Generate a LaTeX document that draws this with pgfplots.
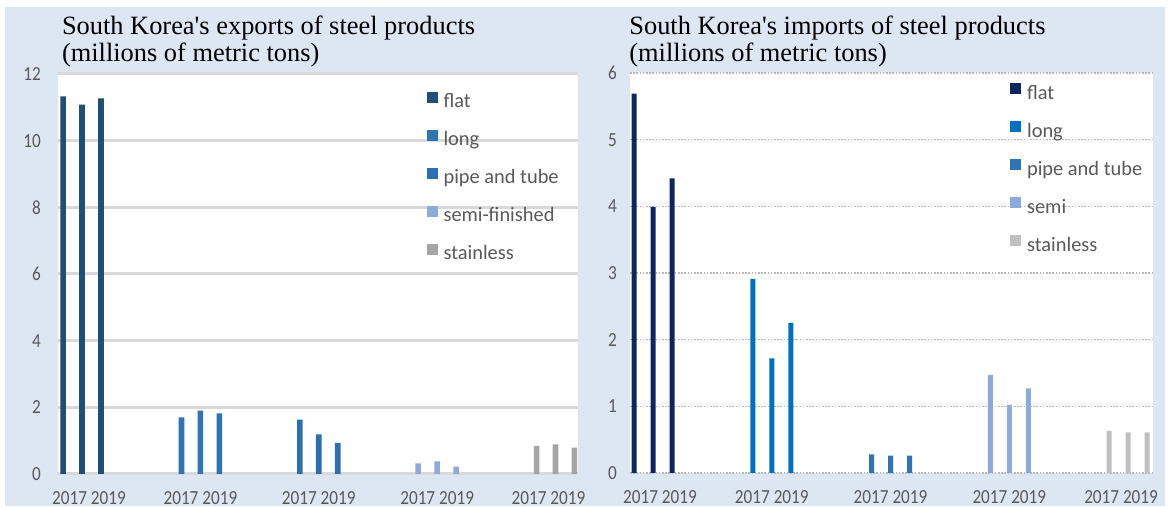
\documentclass[border=0pt]{standalone}
\usepackage{fontspec}
\setmainfont{Liberation Serif}
\newfontfamily\calfont{Carlito}
\usepackage{pgfplots}
\pgfplotsset{compat=1.18}
\definecolor{bg}{HTML}{DDE7F3}
\definecolor{tc}{HTML}{595959}
\definecolor{lflat}{HTML}{1F4E79}
\definecolor{llong}{HTML}{2E75B6}
\definecolor{lpipe}{HTML}{2B6EB2}
\definecolor{lsemi}{HTML}{8EA9DB}
\definecolor{lstain}{HTML}{A5A5A5}
\definecolor{rflat}{HTML}{0E2660}
\definecolor{rlong}{HTML}{0070C0}
\definecolor{rpipe}{HTML}{2E75B6}
\definecolor{rsemi}{HTML}{8EA9DB}
\definecolor{rstain}{HTML}{BFBFBF}
\newcommand\tl[1]{\scalebox{0.86}[1]{#1}}
\pgfplotsset{
  common/.style={
    scale only axis, anchor=south west,
    ybar, bar shift=0pt,
    axis line style={draw=none}, major tick length=0pt,
    axis background/.style={fill=white},
    ymajorgrids,
    xtick={0,1,2,3,4},
    xticklabels={\hspace*{7pt}\tl{2017 2019},\tl{2017 2019},\tl{2017 2019},\tl{2017 2019},\tl{2017 2019}\hspace*{7pt}},
    xticklabel style={font=\calfont\fontsize{10}{12}\selectfont, text=tc, yshift=-5pt},
    yticklabel style={font=\calfont\fontsize{10}{12}\selectfont, text=tc},
    yticklabel={\tl{\pgfmathprintnumber{\tick}}},
    /pgf/number format/assume math mode=true,
    legend cell align=left,
    legend style={draw=none, fill=none, anchor=north west, inner sep=0pt, row sep=9pt, column sep=3pt,
      font=\calfont\fontsize{10.2}{12}\selectfont, text=tc,
      nodes={inner sep=0pt, text height=7pt, text depth=2pt}},
    legend image code/.code={\fill[##1, draw=none] (0pt,0pt) rectangle (5.5pt,5.5pt);},
  }
}
\begin{document}
\begin{tikzpicture}
\useasboundingbox (0,0) rectangle (584pt,254pt);
\fill[white] (0,0) rectangle (584pt,254pt);
\fill[bg] (2.5pt,1pt) rectangle (582.5pt,250.5pt);
\node[anchor=base west, inner sep=0pt, font=\fontsize{13.2}{16}\selectfont] at (30.8pt,236.85pt) {South Korea\textquotesingle s exports of steel products};
\node[anchor=base west, inner sep=0pt, font=\fontsize{13.2}{16}\selectfont] at (30.8pt,223.15pt) {(millions of metric tons)};
\node[anchor=base west, inner sep=0pt, font=\fontsize{13.2}{16}\selectfont] at (314.5pt,236.85pt) {South Korea\textquotesingle s imports of steel products};
\node[anchor=base west, inner sep=0pt, font=\fontsize{13.2}{16}\selectfont] at (314.5pt,223.15pt) {(millions of metric tons)};

\begin{axis}[common,
  at={(29pt,17pt)}, width=260pt, height=200pt,
  xmin=-0.203, xmax=4.19, ymin=0, ymax=12, ytick={0,2,4,6,8,10,12},
  bar width=2.8pt,
  grid style={draw=black!15, line width=1.5pt},
  yticklabel style={xshift=-5pt},
  legend style={at={(0.708,0.9565)}},
]
\addplot[fill=lflat, draw=none] coordinates {(-0.16,11.33) (0,11.08) (0.16,11.27)};
\addplot[fill=llong, draw=none] coordinates {(0.84,1.70) (1,1.90) (1.16,1.82)};
\addplot[fill=lpipe, draw=none] coordinates {(1.84,1.63) (2,1.19) (2.16,0.93)};
\addplot[fill=lsemi, draw=none] coordinates {(2.84,0.32) (3,0.38) (3.16,0.22)};
\addplot[fill=lstain, draw=none] coordinates {(3.84,0.84) (4,0.89) (4.16,0.79)};
\legend{flat,long,pipe and tube,semi-finished,stainless}
\end{axis}

\begin{axis}[common,
  at={(315pt,17.5pt)}, width=261.5pt, height=200pt,
  xmin=-0.194, xmax=4.21, ymin=0, ymax=6, ytick={0,1,2,3,4,5,6},
  bar width=2.5pt,
  grid style={draw=black!28, line width=0.6pt, dash pattern=on 0.8pt off 0.8pt},
  yticklabel style={xshift=-3pt},
  legend style={at={(0.726,0.976)}},
]
\addplot[fill=rflat, draw=none] coordinates {(-0.16,5.69) (0,3.99) (0.16,4.42)};
\addplot[fill=rlong, draw=none] coordinates {(0.84,2.91) (1,1.72) (1.16,2.25)};
\addplot[fill=rpipe, draw=none] coordinates {(1.84,0.28) (2,0.26) (2.16,0.26)};
\addplot[fill=rsemi, draw=none] coordinates {(2.84,1.47) (3,1.02) (3.16,1.27)};
\addplot[fill=rstain, draw=none] coordinates {(3.84,0.63) (4,0.61) (4.16,0.61)};
\legend{flat,long,pipe and tube,semi,stainless}
\end{axis}
\end{tikzpicture}
\end{document}
